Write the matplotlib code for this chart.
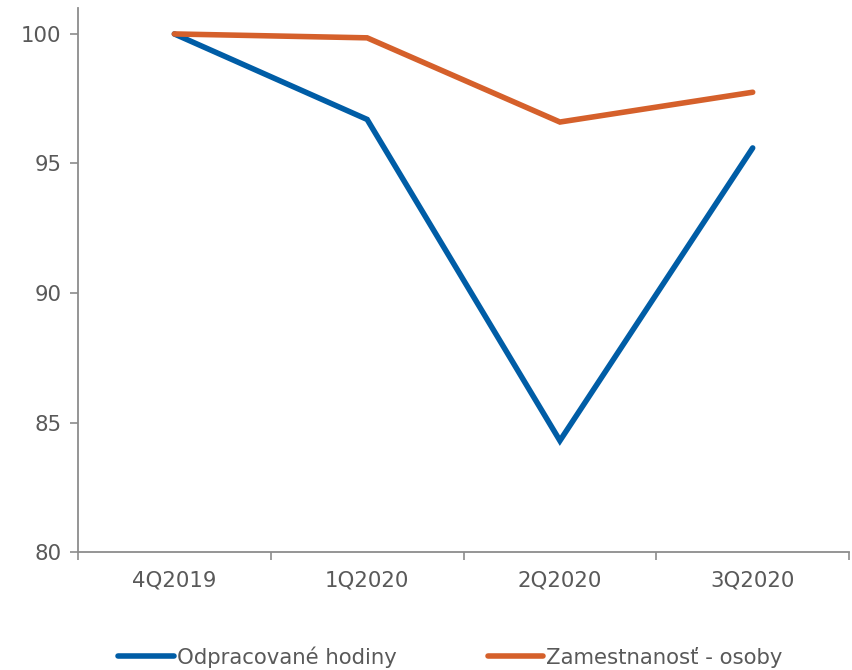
import matplotlib.pyplot as plt

kvartaly = ["4Q2019", "1Q2020", "2Q2020", "3Q2020"]
hodiny = [100, 96.7, 84.3, 95.6]
zamestnanost = [100, 99.85, 96.6, 97.75]

sediva = "#595959"
plt.rcParams["font.family"] = ["DejaVu Sans"]

fig = plt.figure(figsize=(8.53, 6.70), dpi=100)
ax = fig.add_axes([0.0914, 0.176, 0.904, 0.812])

x = range(len(kvartaly))
ax.plot(x, hodiny, color="#005DA6", lw=4, solid_capstyle="round",
        solid_joinstyle="miter", label="Odpracované hodiny")
ax.plot(x, zamestnanost, color="#D5602B", lw=4, solid_capstyle="round",
        solid_joinstyle="miter", label="Zamestnanosť - osoby")

ax.set_xlim(-0.5, 3.5)
ax.set_ylim(80, 101)
ax.set_yticks([80, 85, 90, 95, 100])

# popisky v strede, ciarky na hraniciach
ax.set_xticks([i - 0.5 for i in range(len(kvartaly) + 1)])
ax.set_xticklabels([])
ax.set_xticks(list(x), minor=True)
ax.set_xticklabels(kvartaly, minor=True)
ax.tick_params(axis="x", which="major", length=6, color="#8c8c8c", width=1.2)
ax.tick_params(axis="x", which="minor", length=0, pad=13, labelsize=15.3, labelcolor=sediva)
ax.tick_params(axis="y", length=6, color="#8c8c8c", width=1.2, labelsize=15.3,
               labelcolor=sediva, pad=6)

for s in ["top", "right"]:
    ax.spines[s].set_visible(False)
for s in ["left", "bottom"]:
    ax.spines[s].set_color("#8c8c8c")
    ax.spines[s].set_linewidth(1.3)

leg = ax.legend(loc="upper center", bbox_to_anchor=(0.483, -0.138), ncol=2,
                frameon=False, fontsize=15.3, handlelength=2.6, handletextpad=0.14,
                columnspacing=4.3, labelcolor=sediva)

fig.savefig("out.png", dpi=100)
